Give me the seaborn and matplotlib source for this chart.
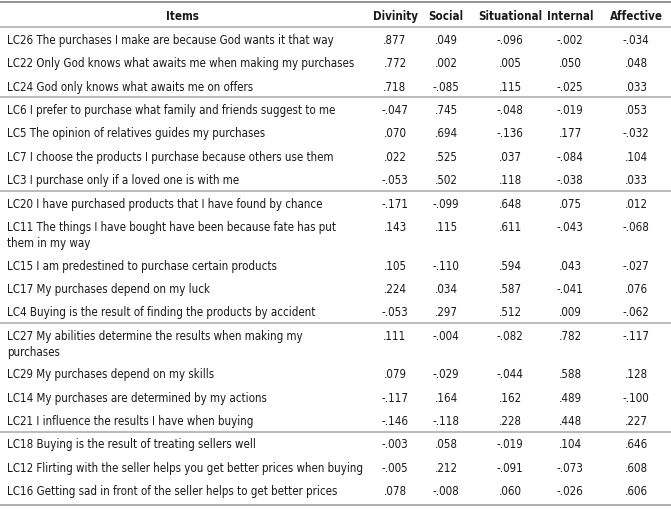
import matplotlib
matplotlib.use("Agg")
import matplotlib.pyplot as plt
from matplotlib import font_manager
import seaborn as sns

# table content
columns = ["Divinity", "Social", "Situational", "Internal", "Affective"]

items = [
    "LC26 The purchases I make are because God wants it that way",
    "LC22 Only God knows what awaits me when making my purchases",
    "LC24 God only knows what awaits me on offers",
    "LC6 I prefer to purchase what family and friends suggest to me",
    "LC5 The opinion of relatives guides my purchases",
    "LC7 I choose the products I purchase because others use them",
    "LC3 I purchase only if a loved one is with me",
    "LC20 I have purchased products that I have found by chance",
    "LC11 The things I have bought have been because fate has put\nthem in my way",
    "LC15 I am predestined to purchase certain products",
    "LC17 My purchases depend on my luck",
    "LC4 Buying is the result of finding the products by accident",
    "LC27 My abilities determine the results when making my\npurchases",
    "LC29 My purchases depend on my skills",
    "LC14 My purchases are determined by my actions",
    "LC21 I influence the results I have when buying",
    "LC18 Buying is the result of treating sellers well",
    "LC12 Flirting with the seller helps you get better prices when buying",
    "LC16 Getting sad in front of the seller helps to get better prices",
]

divinity = [.877, .772, .718, -.047, .070, .022, -.053, -.171, .143, .105, .224, -.053,
            .111, .079, -.117, -.146, -.003, -.005, .078]
social = [.049, .002, -.085, .745, .694, .525, .502, -.099, .115, -.110, .034, .297,
          -.004, -.029, .164, -.118, .058, .212, -.008]
situational = [-.096, .005, .115, -.048, -.136, .037, .118, .648, .611, .594, .587, .512,
               -.082, -.044, .162, .228, -.019, -.091, .060]
internal = [-.002, .050, -.025, -.019, .177, -.084, -.038, .075, -.043, .043, -.041, .009,
            .782, .588, .489, .448, .104, -.073, -.026]
affective = [-.034, .048, .033, .053, -.032, .104, .033, .012, -.068, -.027, .076, -.062,
             -.117, .128, -.100, .227, .646, .608, .606]

# rows after which a group separator is drawn
group_ends = [2, 6, 11, 15]


def fmt(v):
    return ("%.3f" % v).replace("0.", ".", 1)


sns.set_style("white")
condensed = [f for f in font_manager.fontManager.ttflist
             if f.name == "DejaVu Sans" and "condensed" in str(f.stretch)]
if condensed:
    family, stretch, fs = "DejaVu Sans", "condensed", 8.3
else:
    family, stretch, fs = "Lato", "normal", 8.8
plt.rcParams["font.family"] = [family, "DejaVu Sans"]

fig = plt.figure(figsize=(6.71, 5.10), dpi=100)
ax = fig.add_axes([0, 0, 1, 1])
ax.set_xlim(0, 671)
ax.set_ylim(510, 0)
ax.axis("off")

col_x = [395, 446, 510, 570, 636]
kw = dict(fontsize=fs, fontstretch=stretch, color="#1a1a1a", va="center_baseline")
ax.text(182, 15, "Items", ha="center", fontweight="bold", **kw)
for c, x in zip(columns, col_x):
    ax.text(x, 15, c, ha="center", fontweight="bold", **kw)

ax.axhline(3, color="#8c8c8c", lw=1.3)
ax.axhline(28, color="#a8a8a8", lw=1.1)

series = [divinity, social, situational, internal, affective]
y = 38.7
pitch = 23.45
wrap = 14.8
for i, item in enumerate(items):
    lines = item.split("\n")
    for j, line in enumerate(lines):
        ax.text(7, y + j * 16, line, ha="left", **kw)
    for s, x in zip(series, col_x):
        ax.text(x, y, fmt(s[i]), ha="center", **kw)
    extra = wrap * (len(lines) - 1)
    if i in group_ends:
        ax.axhline(y + extra + pitch / 2 + 1, color="#a8a8a8", lw=1.1)
    y += pitch + extra

ax.axhline(506, color="#a8a8a8", lw=1.3)

fig.savefig("out.png", dpi=100)
